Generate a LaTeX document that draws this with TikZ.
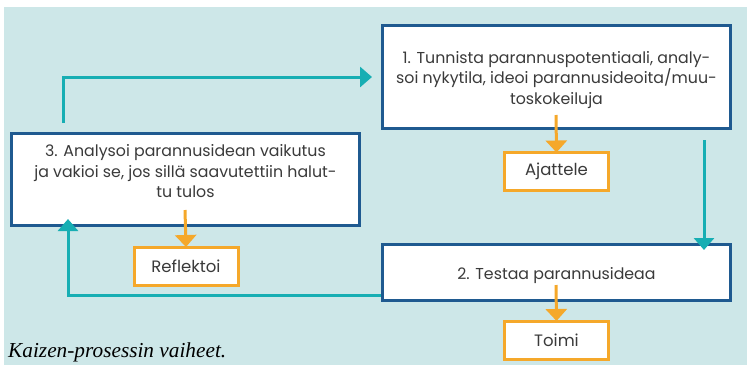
\documentclass[tikz,border=0pt]{standalone}
\usepackage{fontspec}
\setmainfont{Poppins}
\newfontfamily\captionfont{Liberation Serif}
\usetikzlibrary{arrows.meta}
\definecolor{bgblue}{HTML}{CDE7E8}
\definecolor{teal}{HTML}{17AEB3}
\definecolor{boxblue}{HTML}{1F5A90}
\definecolor{orange}{HTML}{F5A82A}
\definecolor{txt}{HTML}{3A3A3A}
\begin{document}
\begin{tikzpicture}[x=1pt,y=-1pt,
  stage/.style={draw=boxblue,line width=3pt,fill=white,inner sep=0pt,
    minimum width=348pt},
  stagetext/.style={text=txt,font=\fontsize{15.8}{20.5}\selectfont,
    align=center,inner sep=0pt},
  mode/.style={draw=orange,line width=3pt,fill=white,text=txt,
    font=\fontsize{16.5}{18}\selectfont,inner sep=0pt,
    minimum width=104pt,minimum height=38pt},
  flow/.style={draw=teal,line width=3pt,
    -{Triangle[length=12pt,width=20pt]}},
  hint/.style={draw=orange,line width=3pt,
    -{Triangle[length=12pt,width=21pt]}}]
\useasboundingbox (0,0) rectangle (749,365);
\fill[bgblue] (4,7) rectangle (747,365);

% process stages
\node[stage,minimum height=103pt] (s1) at (556.5,77) {};
\node[stagetext] (s1t) at (556.5,80)
  {1. Tunnista parannuspotentiaali, analy-\\soi nykytila, ideoi parannusideoita/muu-\\toskokeiluja};
\node[stage,minimum height=56pt] (s2) at (556.5,272.5) {};
\node[stagetext] (s2t) at (556.5,275.5) {2. Testaa parannusideaa};
\node[stage,minimum height=92pt] (s3) at (185.5,179.5) {};
\node[stagetext] (s3t) at (185.5,171.5)
  {3. Analysoi parannusidean vaikutus\\ja vakioi se, jos sillä saavutettiin halut-\\tu tulos};

% modes of each stage
\node[mode] (think) at (556.5,171.5) {Ajattele};
\node[mode] (act) at (556.5,340) {Toimi};
\node[mode] (reflect) at (186,266) {Reflektoi};

% cycle connectors
\coordinate (c1a) at (63,123);
\coordinate (c2a) at (704,140);
\coordinate (c3a) at (381,295);
\draw[flow] (c1a) |- ([xshift=-9pt]s1.west |- 0,77);
\draw[flow] (c2a) -- ([yshift=-7pt]s2.north -| c2a);
\draw[flow] (c3a) -| ([yshift=8pt]s3.south -| 68,0);

% stage to mode connectors
\draw[hint] (556,115) -- ([yshift=-1.5pt]think.north);
\draw[hint] (556,285) -- ([yshift=-1.5pt]act.north);
\draw[hint] (185,210) -- ([yshift=-1.5pt]reflect.north);

\node[anchor=base west,inner sep=0pt,text=black,
  font=\captionfont\itshape\fontsize{21.3}{22}\selectfont] (cap) at (8,357)
  {Kaizen-prosessin vaiheet.};
\end{tikzpicture}
\end{document}
